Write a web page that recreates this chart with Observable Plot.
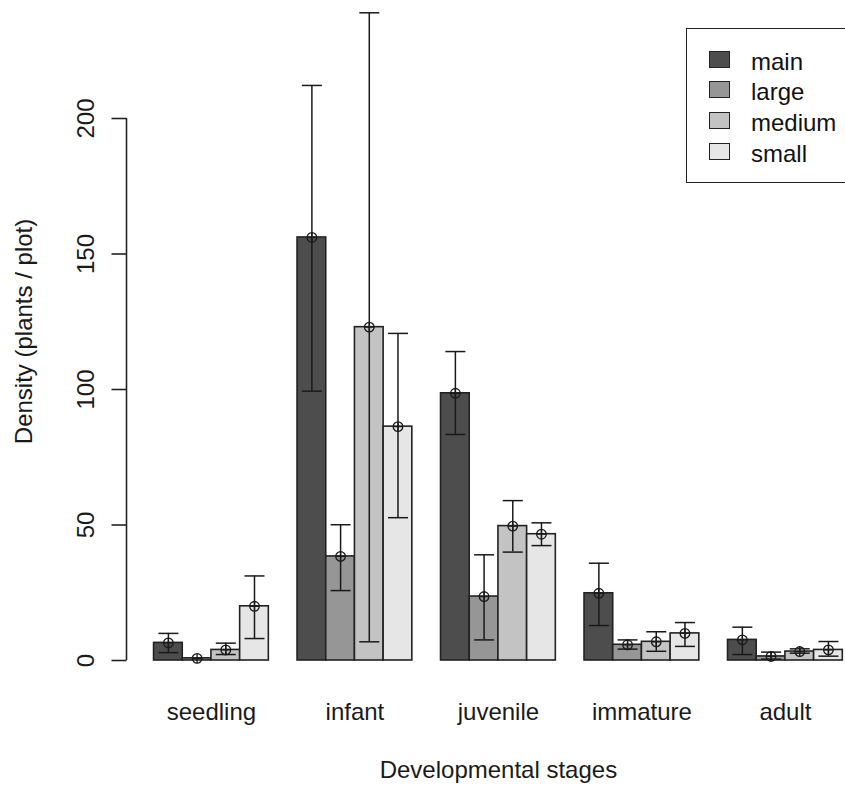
<!DOCTYPE html>
<html>
<head>
<meta charset="utf-8">
<script src="https://cdn.jsdelivr.net/npm/d3@7"></script>
<script src="https://cdn.jsdelivr.net/npm/@observablehq/plot@0.6"></script>
<style>
  html, body { margin: 0; padding: 0; background: #fff; }
  #chart { position: relative; width: 845px; height: 785px; overflow: hidden; font-family: "Liberation Sans", Arial, sans-serif; }
  #chart svg { display: block; }
  .legend-box { position: absolute; border: 1.6px solid #222; background: #fff; box-sizing: border-box; }
  .legend-swatch { position: absolute; border: 1.6px solid #222; box-sizing: border-box; }
  .legend-label { position: absolute; font-size: 24px; color: #111; line-height: 1; white-space: nowrap; }
</style>
</head>
<body>
<div id="chart"></div>
<script>
// ---- data ----
const stages = ["seedling", "infant", "juvenile", "immature", "adult"];
const sizes = ["main", "large", "medium", "small"];
const grays = ["#4D4D4D", "#969696", "#C3C3C3", "#E6E6E6"];
const yTicks = [0, 50, 100, 150, 200];

const mainMean   = [6.5, 156.1, 98.6, 24.8, 7.6];
const largeMean  = [0.8, 38.4, 23.6, 5.8, 1.5];
const mediumMean = [3.9, 123.0, 49.6, 6.9, 3.3];
const smallMean  = [20.0, 86.3, 46.6, 10.0, 3.9];

const mainUpper   = [10.0, 212.2, 114.0, 35.9, 12.3];
const largeUpper  = [1.2, 50.1, 39.0, 7.6, 3.1];
const mediumUpper = [6.4, 239.0, 59.0, 10.6, 4.3];
const smallUpper  = [31.2, 120.7, 50.8, 14.0, 7.0];

const mainLower   = [2.9, 99.4, 83.4, 12.9, 2.2];
const largeLower  = [0.4, 25.8, 7.6, 4.2, 0.5];
const mediumLower = [2.2, 6.9, 40.0, 3.4, 2.7];
const smallLower  = [8.1, 52.7, 42.4, 5.2, 1.6];

const xLabel = "Developmental stages";
const yLabel = "Density (plants / plot)";

// ---- table for the library ----
const meanBy = {main: mainMean, large: largeMean, medium: mediumMean, small: smallMean};
const upperBy = {main: mainUpper, large: largeUpper, medium: mediumUpper, small: smallUpper};
const lowerBy = {main: mainLower, large: largeLower, medium: mediumLower, small: smallLower};

// barplot(beside=TRUE) layout: each bar 1 unit wide, 1 unit gap before each group
const rows = stages.flatMap((stage, g) => sizes.map((size, s) => ({
  stage, size,
  x1: 1 + 5 * g + s,
  x2: 2 + 5 * g + s,
  xc: 1.5 + 5 * g + s,
  mean: meanBy[size][g],
  upper: upperBy[size][g],
  lower: lowerBy[size][g]
})));
const groupCenters = stages.map((stage, g) => ({stage, x: 3 + 5 * g}));

const xDomain = [0.04, 25.96];
const unit = 28.698;
const xRange = [126, 126 + (xDomain[1] - xDomain[0]) * unit];

// custom symbols
const capSymbol = {draw(ctx, size) { const r = Math.sqrt(size / Math.PI); ctx.moveTo(-r, 0); ctx.lineTo(r, 0); }};
const tickSymbol = {draw(ctx, size) { const r = Math.sqrt(size / Math.PI); ctx.moveTo(-r, 0); ctx.lineTo(0, 0); }};
const pch10 = {draw(ctx, size) {
  const r = Math.sqrt(size / Math.PI);
  ctx.moveTo(r, 0); ctx.arc(0, 0, r, 0, 2 * Math.PI);
  ctx.moveTo(-r, 0); ctx.lineTo(r, 0);
  ctx.moveTo(0, -r); ctx.lineTo(0, r);
}};

const ink = "#1a1a1a";
const font = 24;

const plot = Plot.plot({
  width: 845,
  height: 785,
  marginLeft: 126,
  marginTop: 0,
  marginRight: 0,
  marginBottom: 0,
  x: {domain: xDomain, range: xRange, axis: null},
  y: {domain: [yTicks[0], yTicks[yTicks.length - 1]], range: [660, 118], axis: null},
  color: {domain: sizes, range: grays},
  style: {fontFamily: '"Liberation Sans", Arial, sans-serif', fontSize: "24px", color: ink, background: "#fff"},
  marks: [
    // bars
    Plot.rectY(rows, {x1: "x1", x2: "x2", y: "mean", fill: "size", stroke: "#222", strokeWidth: 1.6}),
    // error bars
    Plot.ruleX(rows.filter(d => d.upper - d.lower > 1), {x: "xc", y1: "lower", y2: "upper", stroke: ink, strokeWidth: 1.5}),
    Plot.dot(rows.filter(d => d.upper - d.lower > 1), {x: "xc", y: "upper", symbol: capSymbol, r: 10, fill: "none", stroke: ink, strokeWidth: 1.5}),
    Plot.dot(rows.filter(d => d.upper - d.lower > 1), {x: "xc", y: "lower", symbol: capSymbol, r: 10, fill: "none", stroke: ink, strokeWidth: 1.5}),
    // points
    Plot.dot(rows, {x: "xc", y: "mean", symbol: pch10, r: 4.8, fill: "none", stroke: ink, strokeWidth: 1.3}),
    // y axis line and ticks
    Plot.ruleX([xDomain[0]], {x: d => d, y1: yTicks[0], y2: yTicks[yTicks.length - 1], stroke: "#222", strokeWidth: 1.6}),
    Plot.dot(yTicks, {y: d => d, frameAnchor: "left", symbol: tickSymbol, r: 15, fill: "none", stroke: "#222", strokeWidth: 1.6}),
    Plot.text(yTicks, {y: d => d, frameAnchor: "left", text: d => String(d), rotate: -90, textAnchor: "middle", lineAnchor: "bottom", dx: -33, fontSize: font, fill: ink}),
    // x tick labels
    Plot.text(groupCenters, {x: "x", y: () => 0, text: "stage", textAnchor: "middle", lineAnchor: "bottom", dy: 59, fontSize: font, fill: ink}),
    // axis titles
    Plot.text([xLabel], {x: () => (xDomain[0] + xDomain[1]) / 2, y: () => 0, text: d => d, textAnchor: "middle", lineAnchor: "bottom", dy: 117, fontSize: font, fill: ink}),
    Plot.text([yLabel], {frameAnchor: "top-left", text: d => d, rotate: -90, textAnchor: "middle", lineAnchor: "bottom", dx: -95, dy: 331, fontSize: font, fill: ink})
  ]
});

const chart = document.getElementById("chart");
chart.appendChild(plot);

// legend (top right, partly cut by the page edge as in the reference)
const box = document.createElement("div");
box.className = "legend-box";
Object.assign(box.style, {left: "686px", top: "28px", width: "220px", height: "155px"});
chart.appendChild(box);
sizes.forEach((s, i) => {
  const cy = 59 + i * 30.7;
  const sw = document.createElement("div");
  sw.className = "legend-swatch";
  Object.assign(sw.style, {left: "709px", top: (cy - 8.5) + "px", width: "21px", height: "17px", background: grays[i]});
  chart.appendChild(sw);
  const lb = document.createElement("div");
  lb.className = "legend-label";
  lb.textContent = s;
  Object.assign(lb.style, {left: "751px", top: (cy - 9.3) + "px"});
  chart.appendChild(lb);
});
</script>
</body>
</html>
